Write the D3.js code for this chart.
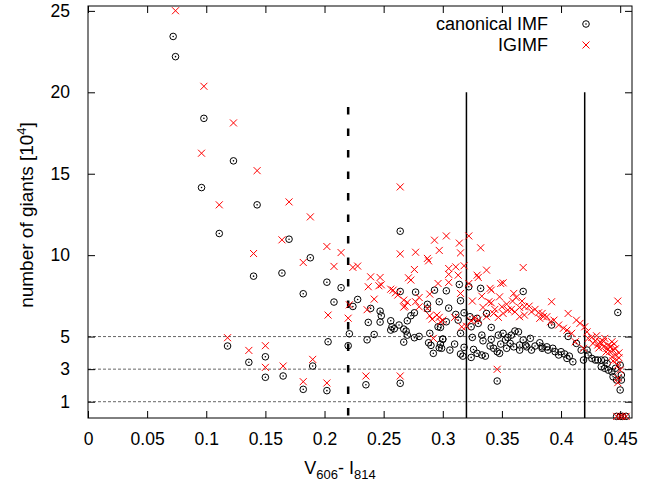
<!DOCTYPE html>
<html lang="en">
<head>
<meta charset="UTF-8">
<title>giants</title>
<style>
  body { margin: 0; background: #fff; }
  text { font-family: "Liberation Sans", Arial, Helvetica, sans-serif; }
</style>
</head>
<body>
<script src="https://cdn.jsdelivr.net/npm/d3@7"></script>
<script>
// canonical IMF (circles)
const canonX = [0.072,0.074,0.098,0.123,0.096,0.143,0.111,0.170,0.140,0.164,0.188,0.182,0.202,0.214,0.208,0.228,0.224,
  0.118,0.136,0.150,0.150,0.165,0.190,0.182,0.202,0.203,0.221,0.220,
  0.264,0.239,0.237,0.236,0.242,0.235,0.247,0.248,0.247,0.256,0.257,0.259,0.256,0.264,0.264,0.263,0.267,0.269,0.267,0.270,
  0.270,0.273,0.276,0.277,0.276,0.280,0.287,0.287,0.289,0.288,0.290,0.293,0.297,0.296,0.292,0.298,0.300,0.297,
  0.303,0.314,0.315,0.322,0.332,0.368,0.305,0.311,0.318,0.303,0.313,0.298,0.315,0.300,0.310,0.299,0.306,0.318,0.315,0.317,
  0.323,0.324,0.329,0.330,0.337,0.341,0.333,0.325,0.341,0.334,0.340,0.326,0.324,0.329,0.333,0.336,0.343,0.346,0.348,0.346,
  0.347,0.349,0.351,0.353,0.355,0.358,0.361,0.364,0.357,0.360,0.365,0.368,0.370,0.374,0.375,0.371,0.378,0.382,0.384,0.365,0.354,
  0.448,0.384,0.388,0.389,0.393,0.395,0.398,0.400,0.403,0.405,0.407,0.410,0.392,0.406,0.413,0.417,0.422,0.419,0.423,0.426,
  0.429,0.431,0.434,0.437,0.434,0.437,0.440,0.443,0.446,0.450,0.444,0.447,0.451,0.450,0.451,0.439,
  0.447,0.450,0.452,0.455];
const canonY = [23.43,22.19,18.40,15.79,14.15,13.09,11.33,10.98,8.71,8.90,9.84,7.63,8.34,8.00,7.12,7.28,6.85,
  4.42,3.42,3.76,2.50,2.58,3.19,1.76,1.68,4.68,5.17,4.44,
  11.47,6.73,5.87,4.80,5.13,2.04,6.56,6.28,5.89,5.97,5.60,5.48,5.40,7.77,2.13,5.71,5.46,5.34,4.66,5.09,
  5.97,6.28,6.46,7.73,4.93,5.01,6.98,6.71,5.20,4.62,4.46,7.85,7.14,5.60,3.97,4.54,4.83,4.31,
  7.81,8.20,7.20,8.06,7.96,7.77,6.75,6.36,6.46,5.91,6.01,5.56,5.20,4.85,4.54,4.28,4.17,4.34,3.93,3.80,
  6.22,5.60,6.12,5.81,6.42,5.56,5.09,4.95,4.83,4.74,4.42,4.21,3.72,3.97,3.87,3.80,4.28,4.07,3.97,2.27,
  5.09,4.54,5.20,4.79,4.95,5.09,5.34,5.29,4.58,4.37,4.48,4.79,4.48,4.89,4.17,4.37,4.42,4.62,4.37,4.17,4.28,
  6.48,4.28,4.37,4.17,4.28,4.07,3.87,4.07,3.93,3.66,3.80,3.45,5.71,5.01,4.58,4.17,4.17,3.56,3.87,3.66,
  3.56,3.56,3.56,3.56,3.15,3.05,2.94,2.84,3.05,3.25,2.53,2.33,2.33,1.72,2.64,3.35,
  0.1,0.1,0.1,0.1];

// IGIMF (crosses)
const igimfX = [0.074,0.098,0.123,0.096,0.143,0.111,0.170,0.188,0.164,0.140,0.182,0.202,0.214,0.208,0.224,0.228,0.203,0.220,0.221,
  0.118,0.136,0.150,0.150,0.165,0.190,0.182,0.202,
  0.264,0.239,0.237,0.242,0.236,0.235,0.247,0.248,0.246,0.264,0.264,0.256,0.258,0.260,0.262,0.267,0.268,0.267,0.270,0.271,
  0.273,0.276,0.277,0.277,0.280,0.280,0.287,0.288,0.289,0.287,0.289,0.293,0.297,0.296,0.295,0.297,0.291,0.303,0.298,0.292,
  0.314,0.315,0.322,0.332,0.305,0.311,0.318,0.313,0.305,0.305,0.315,0.337,0.329,0.330,0.322,0.368,0.325,0.333,0.340,0.341,
  0.349,0.351,0.339,0.341,0.348,0.334,0.344,0.350,0.354,0.359,0.360,0.362,0.367,0.365,0.358,0.355,0.351,0.347,0.343,0.337,
  0.330,0.327,0.324,0.310,0.316,0.320,0.300,0.361,0.369,0.373,0.375,0.378,0.381,0.382,0.385,0.369,0.365,0.346,
  0.392,0.384,0.388,0.394,0.391,0.398,0.406,0.402,0.405,0.409,0.413,0.416,0.420,0.422,0.423,0.412,0.419,0.427,0.431,0.434,
  0.436,0.439,0.440,0.441,0.444,0.446,0.443,0.447,0.448,0.450,0.448,0.448,0.448,0.437,0.433,0.443,
  0.429,0.432,0.436,0.438,0.442,0.445,0.446,0.449,0.444,0.449,0.426,0.430,
  0.447,0.450,0.452,0.455];
const igimfY = [25.01,20.37,18.12,16.26,15.19,13.09,13.27,12.35,10.94,10.10,9.55,10.53,10.16,9.31,9.25,9.33,6.32,6.13,6.95,
  4.93,4.15,4.44,3.11,3.19,3.60,2.23,2.15,
  14.19,8.67,8.06,7.30,6.65,2.58,8.63,8.18,8.12,10.08,2.58,7.91,7.85,7.69,7.55,7.24,6.87,6.81,7.10,8.61,
  8.47,9.12,10.18,7.14,7.40,6.83,9.80,9.65,7.61,6.73,6.28,10.92,10.29,8.26,6.32,6.18,6.07,11.18,5.91,4.89,
  10.74,10.14,11.18,10.45,9.18,9.28,9.35,8.77,8.82,8.33,7.65,9.08,8.77,8.63,8.26,9.24,7.18,7.48,7.96,7.85,
  8.26,8.30,7.14,7.07,7.44,6.79,6.67,6.83,6.99,7.18,7.65,7.40,7.18,6.79,6.67,6.63,6.42,6.18,6.42,6.22,
  6.01,6.12,5.97,6.18,5.60,5.64,6.01,6.52,6.83,6.87,6.52,6.67,6.46,6.12,6.22,6.32,6.22,2.99,
  7.14,6.42,6.22,6.01,5.91,5.71,6.42,5.51,5.40,5.20,6.01,5.81,5.60,5.29,4.89,4.68,4.28,4.58,4.48,4.58,
  4.37,4.28,4.48,4.07,4.17,3.87,3.76,3.56,3.25,2.94,2.44,2.17,7.18,4.89,4.68,4.68,
  4.75,4.30,4.70,4.05,4.40,4.55,4.25,4.00,3.50,3.70,4.95,5.05,
  0.1,0.1,0.1,0.1];

const xTicks = [0, 0.05, 0.1, 0.15, 0.2, 0.25, 0.3, 0.35, 0.4, 0.45];
const yTicks = [1, 3, 5, 10, 15, 20, 25];
const refLevels = [1, 3, 5];
const dashedCut = 0.22, dashedTop = 19.1;
const solidCuts = [0.32, 0.42], solidTop = 20;

const W = 662, H = 487;
const m = {left: 88, right: 30, top: 6, bottom: 69};
const iw = W - m.left - m.right, ih = H - m.top - m.bottom;

const svg = d3.select("body").append("svg").attr("width", W).attr("height", H);
const g = svg.append("g").attr("transform", `translate(${m.left},${m.top})`);

const x = d3.scaleLinear().domain([0, 0.46]).range([0, iw]);
const y = d3.scaleLinear().domain([0, 25.3]).range([ih, 0]);

// dotted reference levels
g.selectAll(".ref").data(refLevels).enter().append("line")
  .attr("x1", 0).attr("x2", iw)
  .attr("y1", d => y(d)).attr("y2", d => y(d))
  .attr("stroke", "#666").attr("stroke-width", 1).attr("stroke-dasharray", "3,2");

// cut lines
g.append("line")
  .attr("x1", x(dashedCut)).attr("x2", x(dashedCut))
  .attr("y1", y(dashedTop)).attr("y2", y(0))
  .attr("stroke", "#000").attr("stroke-width", 2.5).attr("stroke-dasharray", "7.5,14");
g.selectAll(".cut").data(solidCuts).enter().append("line")
  .attr("x1", d => x(d)).attr("x2", d => x(d))
  .attr("y1", y(solidTop)).attr("y2", y(0))
  .attr("stroke", "#000").attr("stroke-width", 1.5);

// axes, ticks pointing inward
const fmt = d => d === 0 ? "0" : String(d);
const axB = g.append("g").attr("transform", `translate(0,${ih})`)
  .call(d3.axisBottom(x).tickValues(xTicks).tickSize(-7).tickPadding(15).tickFormat(fmt));
const axT = g.append("g")
  .call(d3.axisTop(x).tickValues(xTicks).tickSize(-7).tickFormat(""));
const axL = g.append("g")
  .call(d3.axisLeft(y).tickValues(yTicks).tickSize(-7).tickPadding(18));
const axR = g.append("g").attr("transform", `translate(${iw},0)`)
  .call(d3.axisRight(y).tickValues(yTicks).tickSize(-7).tickFormat(""));
[axB, axT, axL, axR].forEach(a => {
  a.select(".domain").remove();
  a.selectAll("line").attr("stroke", "#000");
  a.selectAll("text").attr("font-size", 17.5).attr("fill", "#000")
    .style("font-family", '"Liberation Sans", Arial, sans-serif');
});
g.append("rect").attr("width", iw).attr("height", ih)
  .attr("fill", "none").attr("stroke", "#000").attr("stroke-width", 1);

// markers
const canon = canonX.map((v, i) => ({x: v, y: canonY[i]}));
const igimf = igimfX.map((v, i) => ({x: v, y: igimfY[i]}));

function circ(sel) {
  sel.append("circle").attr("r", 3.3).attr("fill", "none").attr("stroke", "#000").attr("stroke-width", 1);
  sel.append("circle").attr("r", 0.8).attr("fill", "#000");
}
function cross(sel) {
  const s = 3.5;
  sel.append("path").attr("d", `M${-s},${-s}L${s},${s}M${-s},${s}L${s},${-s}`)
    .attr("stroke", "#f00").attr("stroke-width", 1).attr("fill", "none");
}

g.selectAll(".c").data(canon).enter().append("g")
  .attr("transform", d => `translate(${x(d.x)},${y(d.y)})`).call(circ);
g.selectAll(".x").data(igimf).enter().append("g")
  .attr("transform", d => `translate(${x(d.x)},${y(d.y)})`).call(cross);

// legend
const leg = svg.append("g");
leg.append("text").attr("x", 548).attr("y", 30).attr("text-anchor", "end").attr("font-size", 18).text("canonical IMF");
leg.append("g").attr("transform", "translate(586,24)").call(circ);
leg.append("text").attr("x", 548).attr("y", 51).attr("text-anchor", "end").attr("font-size", 18).text("IGIMF");
leg.append("g").attr("transform", "translate(586,45)").call(cross);

// axis labels
const xl = svg.append("text").attr("x", 340).attr("y", 474).attr("text-anchor", "middle").attr("font-size", 18);
xl.append("tspan").text("V");
xl.append("tspan").attr("font-size", 13).attr("dy", 5).text("606");
xl.append("tspan").attr("dy", -5).text("- I");
xl.append("tspan").attr("font-size", 13).attr("dy", 5).text("814");

const yl = svg.append("text").attr("transform", "translate(33,215) rotate(-90)")
  .attr("text-anchor", "middle").attr("font-size", 19);
yl.append("tspan").text("number of giants [10");
yl.append("tspan").attr("font-size", 13).attr("dy", -7).text("4");
yl.append("tspan").attr("dy", 7).text("]");
</script>
</body>
</html>
